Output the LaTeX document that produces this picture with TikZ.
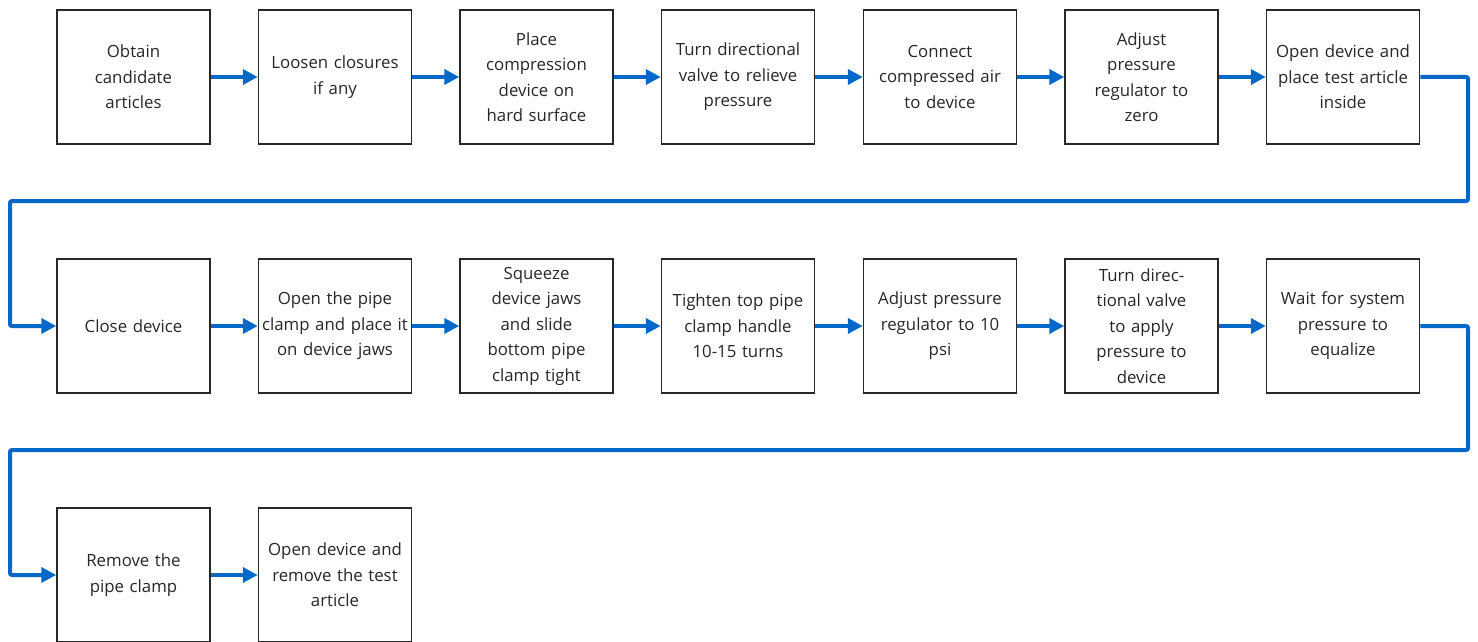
\documentclass[tikz,border=0pt]{standalone}
\usepackage{fontspec}
\setmainfont{Open Sans}
\usetikzlibrary{arrows.meta}
\definecolor{flowblue}{RGB}{0,104,200}
\definecolor{boxline}{RGB}{40,40,40}
\begin{document}
\begin{tikzpicture}[x=1pt,y=-1pt,
  stepbox/.style={draw=boxline,line width=1.5pt,minimum width=153pt,minimum height=134pt,inner sep=2pt,align=center,text width=149pt,font=\fontsize{16.8}{25.5}\selectfont,text=black!85},
  flow/.style={draw=flowblue,line width=4pt,-{Triangle[length=15pt,width=15pt]},rounded corners=2pt}]
\useasboundingbox (0,0) rectangle (1478,642);
\node[stepbox] (a1) at (133.5,77) {Obtain\\candidate\\articles};
\node[stepbox] (a2) at (335,77) {Loosen closures\\if any};
\node[stepbox] (a3) at (536.5,77) {Place\\compression\\device on\\hard surface};
\node[stepbox] (a4) at (738,77) {Turn directional\\valve to relieve\\pressure};
\node[stepbox] (a5) at (940,77) {Connect\\compressed air\\to device};
\node[stepbox] (a6) at (1141.5,77) {Adjust\\pressure\\regulator to\\zero};
\node[stepbox] (a7) at (1343,77) {Open device and\\place test article\\inside};
\node[stepbox] (b1) at (133.5,326) {Close device};
\node[stepbox] (b2) at (335,326) {Open the pipe\\clamp and place it\\on device jaws};
\node[stepbox] (b3) at (536.5,326) {Squeeze\\device jaws\\and slide\\bottom pipe\\clamp tight};
\node[stepbox] (b4) at (738,326) {Tighten top pipe\\clamp handle\\10-15 turns};
\node[stepbox] (b5) at (940,326) {Adjust pressure\\regulator to 10\\psi};
\node[stepbox] (b6) at (1141.5,326) {Turn direc-\\tional valve\\to apply\\pressure to\\device};
\node[stepbox] (b7) at (1343,326) {Wait for system\\pressure to\\equalize};
\node[stepbox] (c1) at (133.5,575) {Remove the\\pipe clamp};
\node[stepbox] (c2) at (335,575) {Open device and\\remove the test\\article};
\draw[flow] (a1) -- (a2);
\draw[flow] (a2) -- (a3);
\draw[flow] (a3) -- (a4);
\draw[flow] (a4) -- (a5);
\draw[flow] (a5) -- (a6);
\draw[flow] (a6) -- (a7);
\draw[flow] (a7.east) -- (1468,77) -- (1468,201) -- (10,201) -- (10,326) -- (b1.west);
\draw[flow] (b1) -- (b2);
\draw[flow] (b2) -- (b3);
\draw[flow] (b3) -- (b4);
\draw[flow] (b4) -- (b5);
\draw[flow] (b5) -- (b6);
\draw[flow] (b6) -- (b7);
\draw[flow] (b7.east) -- (1468,326) -- (1468,450) -- (10,450) -- (10,575) -- (c1.west);
\draw[flow] (c1) -- (c2);
\end{tikzpicture}
\end{document}
